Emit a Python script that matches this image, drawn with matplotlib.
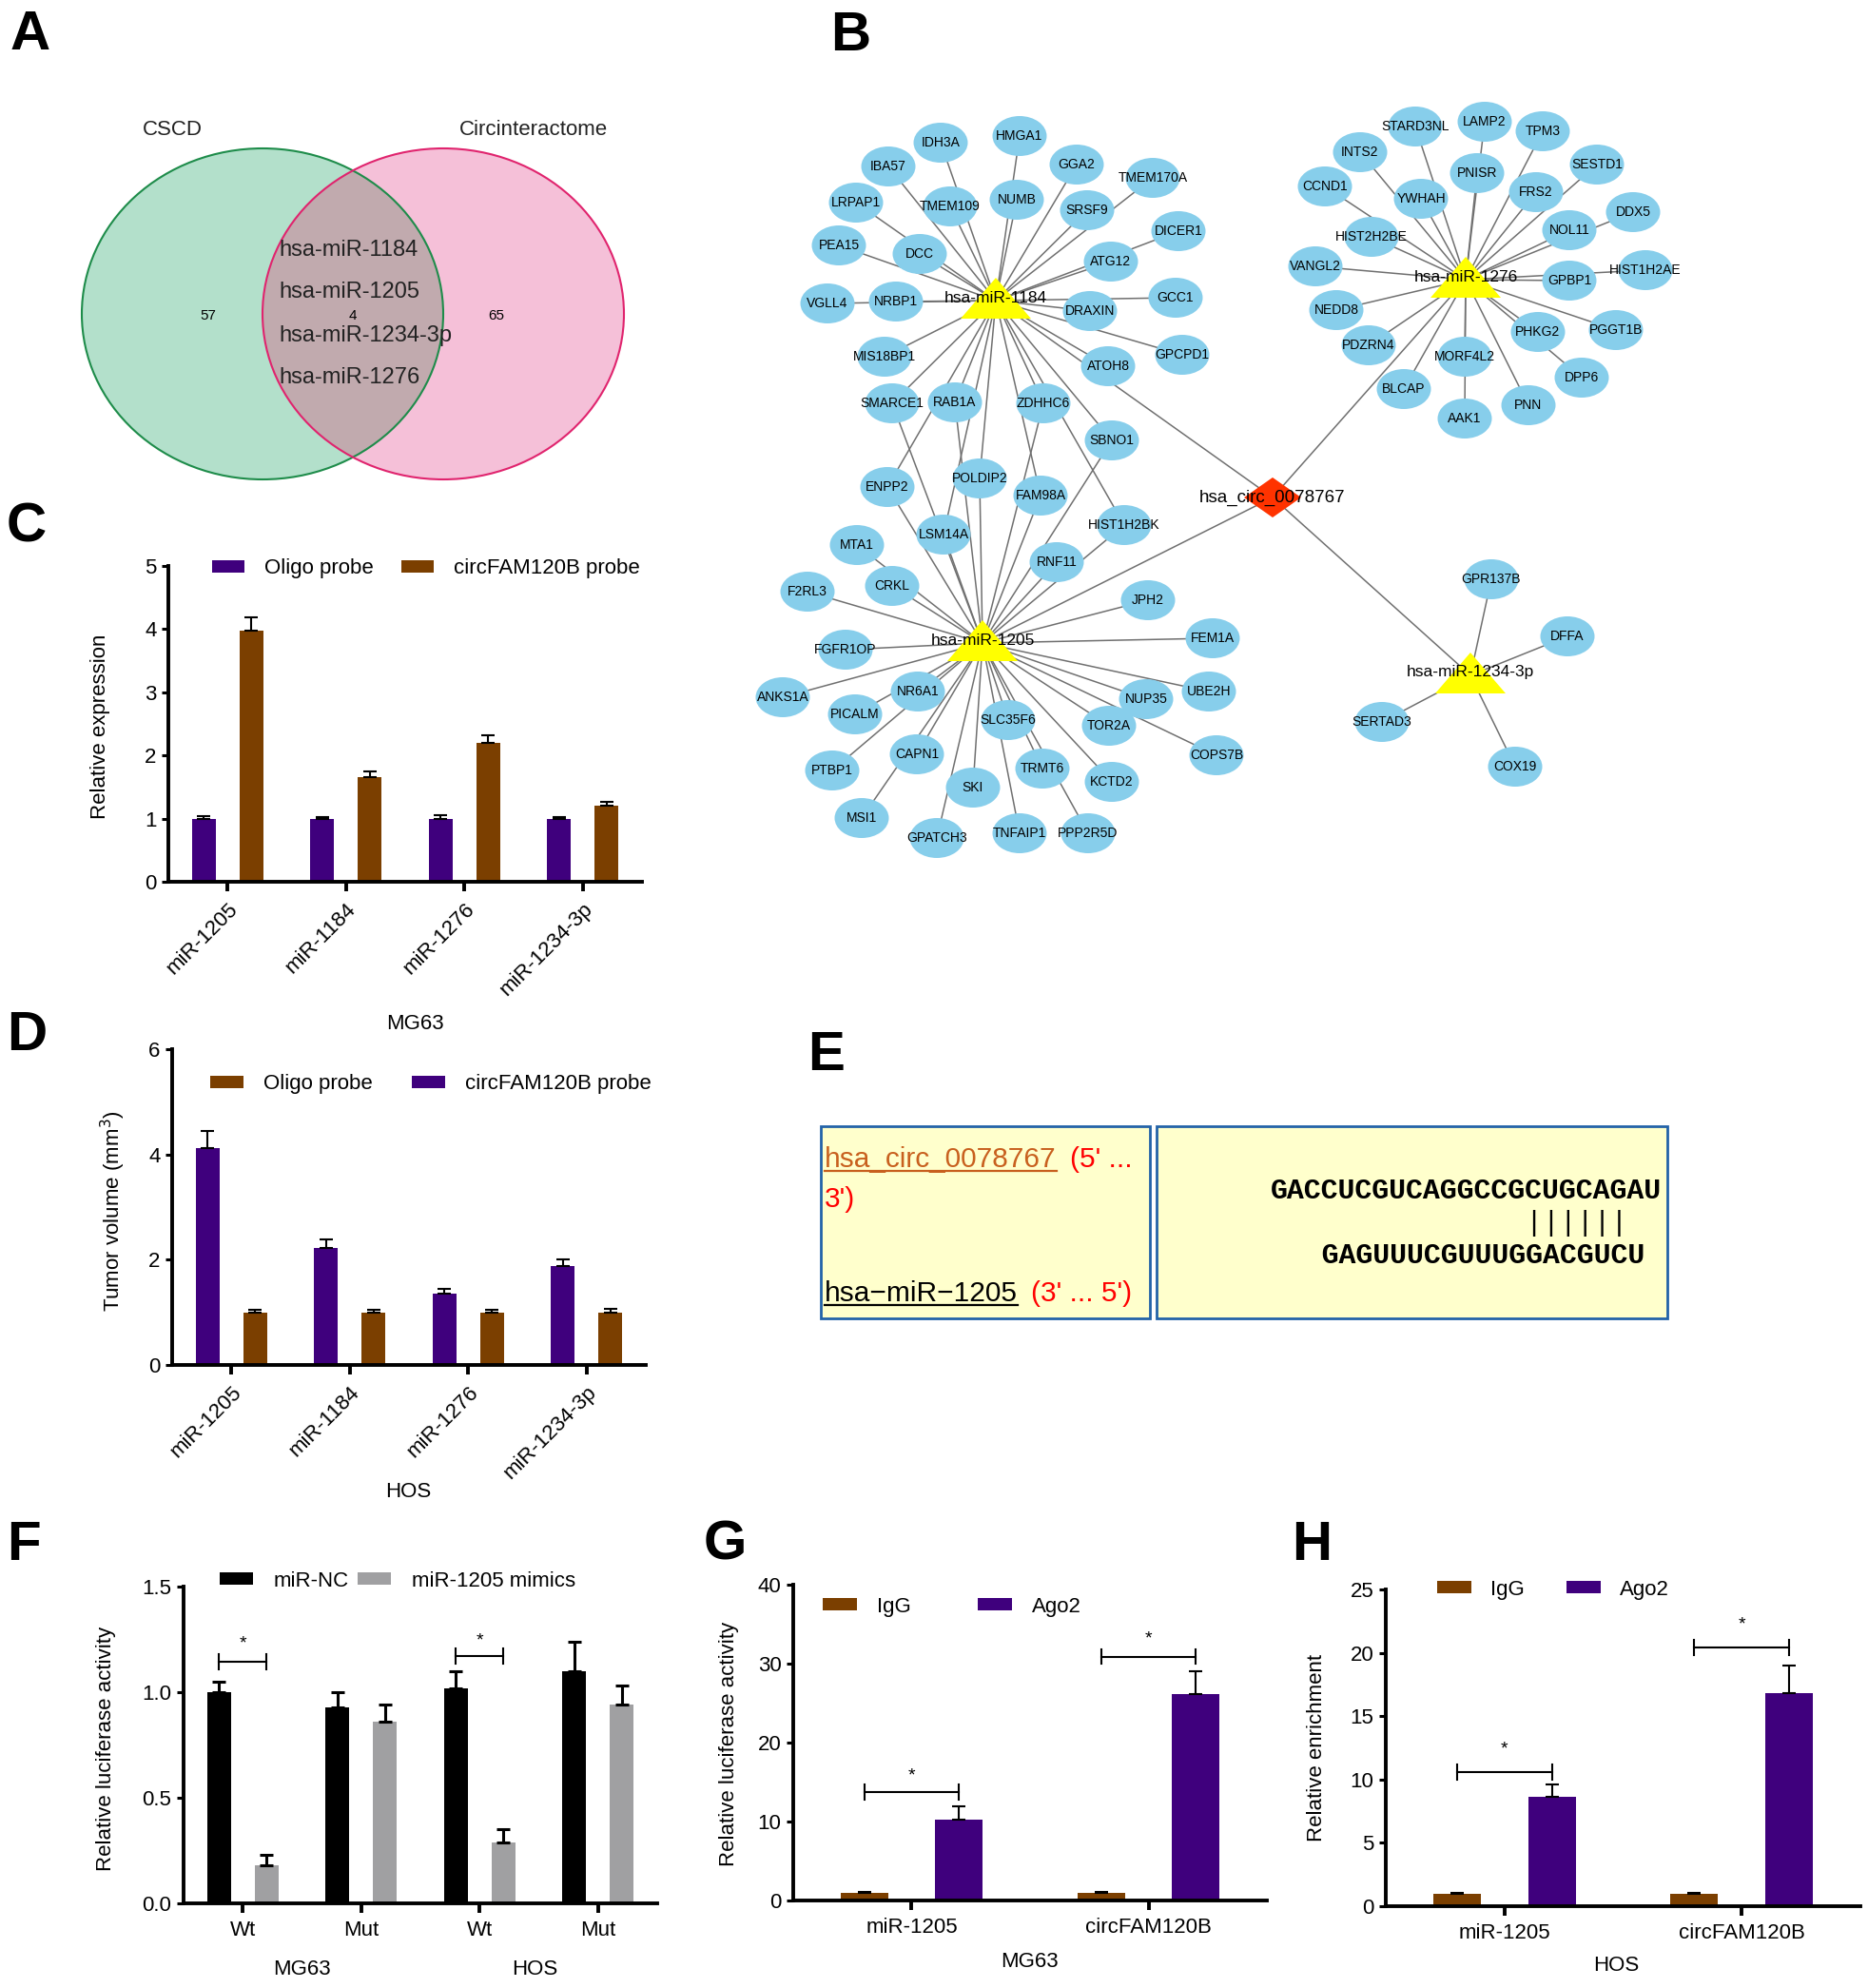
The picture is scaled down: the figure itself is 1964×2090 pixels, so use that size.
import numpy as np
import matplotlib
matplotlib.use('Agg')
import matplotlib.pyplot as plt
from matplotlib.patches import Ellipse, Polygon, Rectangle, Patch

plt.rcParams['font.family'] = ['Liberation Sans', 'DejaVu Sans']

W, H = 1965, 2090
PURPLE = '#3f007d'
BROWN = '#7b3f00'
GRAY = '#a0a0a2'

# ---------------- data ----------------
venn_sets = ['CSCD', 'Circinteractome']
venn_counts = [57, 4, 65]
shared_mirs = ['hsa-miR-1184', 'hsa-miR-1205', 'hsa-miR-1234-3p', 'hsa-miR-1276']

mirs = ['miR-1205', 'miR-1184', 'miR-1276', 'miR-1234-3p']
c_oligo = [1.0, 1.0, 1.0, 1.0]
c_oligo_err = [0.04, 0.02, 0.05, 0.03]
c_circ = [3.98, 1.66, 2.2, 1.2]
c_circ_err = [0.2, 0.09, 0.12, 0.06]

d_circ = [4.12, 2.22, 1.36, 1.88]
d_circ_err = [0.33, 0.16, 0.09, 0.12]
d_oligo = [1.0, 1.0, 1.0, 1.0]
d_oligo_err = [0.04, 0.04, 0.04, 0.06]

f_groups = ['Wt', 'Mut', 'Wt', 'Mut']
f_cells = ['MG63', 'HOS']
f_nc = [1.0, 0.93, 1.02, 1.10]
f_nc_err = [0.05, 0.07, 0.08, 0.14]
f_mim = [0.18, 0.86, 0.29, 0.94]
f_mim_err = [0.05, 0.08, 0.06, 0.09]

ip_targets = ['miR-1205', 'circFAM120B']
g_igg = [1.0, 1.0]
g_igg_err = [0.1, 0.1]
g_ago = [10.2, 26.1]
g_ago_err = [1.7, 2.9]
h_igg = [1.0, 1.0]
h_igg_err = [0.05, 0.05]
h_ago = [8.6, 16.8]
h_ago_err = [1.0, 2.2]

# network (panel B)
circ_name = 'hsa_circ_0078767'
hubs = ['hsa-miR-1184', 'hsa-miR-1276', 'hsa-miR-1205', 'hsa-miR-1234-3p']
t1184 = ['IDH3A', 'HMGA1', 'IBA57', 'GGA2', 'TMEM170A', 'LRPAP1', 'TMEM109', 'NUMB', 'SRSF9',
         'DICER1', 'PEA15', 'DCC', 'ATG12', 'GCC1', 'VGLL4', 'NRBP1', 'DRAXIN', 'MIS18BP1',
         'ATOH8', 'GPCPD1']
t_shared = ['SMARCE1', 'RAB1A', 'ZDHHC6', 'SBNO1', 'ENPP2', 'POLDIP2', 'FAM98A', 'HIST1H2BK', 'LSM14A']
t1205 = ['MTA1', 'CRKL', 'RNF11', 'F2RL3', 'JPH2', 'FEM1A', 'FGFR1OP', 'ANKS1A', 'NR6A1', 'PICALM',
         'UBE2H', 'NUP35', 'SLC35F6', 'TOR2A', 'CAPN1', 'COPS7B', 'PTBP1', 'TRMT6', 'KCTD2', 'SKI',
         'MSI1', 'GPATCH3', 'TNFAIP1', 'PPP2R5D']
t1276 = ['STARD3NL', 'LAMP2', 'TPM3', 'INTS2', 'PNISR', 'SESTD1', 'CCND1', 'YWHAH', 'FRS2', 'DDX5',
         'NOL11', 'HIST2H2BE', 'VANGL2', 'GPBP1', 'HIST1H2AE', 'NEDD8', 'PDZRN4', 'MORF4L2', 'PHKG2',
         'PGGT1B', 'DPP6', 'BLCAP', 'PNN', 'AAK1']
t1234 = ['GPR137B', 'DFFA', 'SERTAD3', 'COX19']

# layout of the network (pixel positions)
layout = {
    'hsa-miR-1184': (1047, 316), 'hsa-miR-1276': (1541, 294), 'hsa-miR-1205': (1033, 676),
    'hsa-miR-1234-3p': (1546, 710), circ_name: (1338, 523),
    'IDH3A': (989, 150), 'HMGA1': (1072, 143), 'IBA57': (934, 175), 'GGA2': (1132, 173),
    'TMEM170A': (1212, 187), 'LRPAP1': (900, 213), 'TMEM109': (999, 217), 'NUMB': (1069, 210),
    'SRSF9': (1143, 221), 'DICER1': (1239, 243), 'PEA15': (882, 258), 'DCC': (967, 267),
    'ATG12': (1168, 275), 'GCC1': (1236, 313), 'VGLL4': (870, 319), 'NRBP1': (942, 317),
    'DRAXIN': (1146, 327), 'MIS18BP1': (930, 375), 'ATOH8': (1165, 385), 'GPCPD1': (1243, 373),
    'SMARCE1': (938, 424), 'RAB1A': (1004, 423), 'ZDHHC6': (1097, 424), 'SBNO1': (1169, 463),
    'ENPP2': (933, 512), 'POLDIP2': (1030, 503), 'FAM98A': (1094, 521), 'HIST1H2BK': (1182, 552),
    'LSM14A': (992, 562), 'MTA1': (901, 573), 'CRKL': (938, 616), 'RNF11': (1111, 591),
    'F2RL3': (849, 622), 'JPH2': (1207, 631), 'FEM1A': (1275, 671), 'FGFR1OP': (889, 683),
    'ANKS1A': (823, 733), 'NR6A1': (965, 727), 'PICALM': (899, 751), 'UBE2H': (1271, 727),
    'NUP35': (1205, 735), 'SLC35F6': (1060, 757), 'TOR2A': (1166, 763), 'CAPN1': (964, 793),
    'COPS7B': (1279, 794), 'PTBP1': (875, 810), 'TRMT6': (1096, 808), 'KCTD2': (1169, 822),
    'SKI': (1023, 828), 'MSI1': (906, 860), 'GPATCH3': (985, 881), 'TNFAIP1': (1072, 876),
    'PPP2R5D': (1144, 876),
    'STARD3NL': (1488, 133), 'LAMP2': (1561, 128), 'TPM3': (1622, 138), 'INTS2': (1430, 160),
    'PNISR': (1553, 182), 'SESTD1': (1679, 173), 'CCND1': (1393, 196), 'YWHAH': (1494, 209),
    'FRS2': (1615, 202), 'DDX5': (1717, 223), 'NOL11': (1650, 242), 'HIST2H2BE': (1442, 249),
    'VANGL2': (1383, 280), 'GPBP1': (1650, 295), 'HIST1H2AE': (1730, 284), 'NEDD8': (1405, 326),
    'PDZRN4': (1439, 363), 'MORF4L2': (1540, 375), 'PHKG2': (1617, 349), 'PGGT1B': (1699, 347),
    'DPP6': (1663, 397), 'BLCAP': (1476, 409), 'PNN': (1607, 426), 'AAK1': (1540, 440),
    'GPR137B': (1568, 609), 'DFFA': (1648, 669), 'SERTAD3': (1453, 759), 'COX19': (1593, 806),
}

fig = plt.figure(figsize=(W / 100, H / 100), dpi=100)
bg = fig.add_axes([0, 0, 1, 1], zorder=0)
bg.set_xlim(0, W)
bg.set_ylim(H, 0)
bg.axis('off')

# panel letters
for lab, (x, y) in zip('ABCDEFGH', [(11, 10), (873, 11), (7, 527), (7, 1062), (849, 1083),
                                     (7, 1598), (740, 1598), (1358, 1598)]):
    bg.text(x, y, lab, fontsize=42, fontweight='bold', ha='left', va='top')

# ---------------- A: Venn ----------------
g_ell = Ellipse((276, 330), 380, 348, fc='#b3e0cb', ec='none', zorder=1)
p_ell = Ellipse((466, 330), 380, 348, fc='#f5c0d8', ec='none', zorder=1)
bg.add_patch(g_ell)
bg.add_patch(p_ell)
ov = Ellipse((466, 330), 380, 348, fc='#c1aaae', ec='none', zorder=1.5)
bg.add_patch(ov)
ov.set_clip_path(g_ell)
bg.add_patch(Ellipse((276, 330), 380, 348, fc='none', ec='#1e8c4a', lw=1.5, zorder=2))
bg.add_patch(Ellipse((466, 330), 380, 348, fc='none', ec='#e0246e', lw=1.5, zorder=2))
bg.text(181, 137, venn_sets[0], fontsize=16, color='#222222', ha='center', va='center')
bg.text(561, 137, venn_sets[1], fontsize=16, color='#222222', ha='center', va='center')
for cnt, x in zip(venn_counts, [219, 371, 522]):
    bg.text(x, 332, str(cnt), fontsize=11, ha='center', va='center', zorder=3)
for name, y in zip(shared_mirs, [263, 307, 353, 397]):
    bg.text(293, y, name, fontsize=17, color='#222222', ha='left', va='center', zorder=3)

# ---------------- B: network ----------------
edges = [(circ_name, h) for h in hubs]
edges += [('hsa-miR-1184', g) for g in t1184 + t_shared]
edges += [('hsa-miR-1205', g) for g in t_shared + t1205]
edges += [('hsa-miR-1276', g) for g in t1276]
edges += [('hsa-miR-1234-3p', g) for g in t1234]
for a, b in edges:
    (x1, y1), (x2, y2) = layout[a], layout[b]
    bg.plot([x1, x2], [y1, y2], color='#707070', lw=1.1, zorder=2, solid_capstyle='butt')

for g in t1184 + t_shared + t1205 + t1276 + t1234:
    x, y = layout[g]
    bg.add_patch(Ellipse((x, y), 57, 42, fc='#87ceeb', ec='none', zorder=3))
    bg.text(x, y, g, fontsize=10, ha='center', va='center', zorder=5)

for hname in hubs:
    x, y = layout[hname]
    bg.add_patch(Polygon([(x, y - 24), (x - 37, y + 19), (x + 37, y + 19)], closed=True,
                         fc='#ffff00', ec='none', zorder=4))
    bg.text(x, y - 3, hname, fontsize=12.5, ha='center', va='center', zorder=6)
cx, cy = layout[circ_name]
bg.add_patch(Polygon([(cx - 30, cy), (cx, cy - 21), (cx + 30, cy), (cx, cy + 21)], closed=True,
                     fc='#ff3300', ec='none', zorder=4))
bg.text(cx, cy, circ_name, fontsize=13.5, ha='center', va='center', zorder=6)

# ---------------- E: binding site ----------------
bg.add_patch(Rectangle((863, 1184), 346, 202, fc='#ffffcc', ec='#2262a8', lw=2, zorder=1))
bg.add_patch(Rectangle((1216, 1184), 537, 202, fc='#ffffcc', ec='#2262a8', lw=2, zorder=1))
t1 = bg.text(867, 1227, circ_name, fontsize=21.5, color='#c8601e', ha='left', va='baseline', zorder=3)
t2 = bg.text(867, 1368, 'hsa\u2212miR\u22121205', fontsize=21.5, color='black', ha='left',
             va='baseline', zorder=3)
bg.text(867, 1269, "3')", fontsize=21.5, color='#ff0000', ha='left', va='baseline', zorder=3)
seq_top = 'GACCUCGUCAGGCCGCUGCAGAU'
seq_bot = 'GAGUUUCGUUUGGACGUCU'
pair_start, pair_len, bot_offset = 15, 6, 3
mono = dict(family=['Liberation Mono', 'DejaVu Sans Mono'], fontsize=21.5, fontweight='bold', zorder=3)
bg.text(1336, 1260, seq_top, ha='left', va='baseline', **mono)
bg.text(1336, 1328, ' ' * bot_offset + seq_bot, ha='left', va='baseline', **mono)
bg.text(1336, 1286, ' ' * pair_start + '|' * pair_len, ha='left', va='center',
        family=['Liberation Mono', 'DejaVu Sans Mono'], fontsize=21.5, zorder=3)

fig.canvas.draw()
rend = fig.canvas.get_renderer()
inv = bg.transData.inverted()
for t, col, uy, red in [(t1, '#c8601e', 1231, "(5' ..."), (t2, 'black', 1372, "(3' ... 5')")]:
    bb = t.get_window_extent(renderer=rend)
    xa = inv.transform((bb.x0, 0))[0]
    xb = inv.transform((bb.x1, 0))[0]
    bg.plot([xa, xb], [uy, uy], color=col, lw=1.6, zorder=3)
    bg.text(xb + 14, uy - 4, red, fontsize=21.5, color='#ff0000', ha='left', va='baseline', zorder=3)


# ---------------- bar chart helpers ----------------
def px_axes(l, t, r, b):
    ax = fig.add_axes([l / W, 1 - b / H, (r - l) / W, (b - t) / H], zorder=2)
    ax.set_facecolor('none')
    for s in ['top', 'right']:
        ax.spines[s].set_visible(False)
    for s in ['left', 'bottom']:
        ax.spines[s].set_linewidth(2.8)
    ax.tick_params(axis='y', direction='out', length=5, width=2.2, labelsize=16, pad=4)
    ax.tick_params(axis='x', direction='out', length=7, width=2.8, labelsize=16, pad=6)
    return ax


def grouped(ax, v1, e1, c1, v2, e2, c2, elw=1.5):
    x = np.arange(len(v1))
    z = np.zeros(len(v1))
    ax.bar(x - 0.2, v1, 0.2, color=c1, zorder=2)
    ax.bar(x + 0.2, v2, 0.2, color=c2, zorder=2)
    ax.errorbar(x - 0.2, v1, yerr=[z, e1], fmt='none', ecolor='black', elinewidth=elw,
                capsize=5, capthick=elw, zorder=3)
    ax.errorbar(x + 0.2, v2, yerr=[z, e2], fmt='none', ecolor='black', elinewidth=elw,
                capsize=5, capthick=elw, zorder=3)
    ax.set_xlim(-0.5, len(v1) - 0.5)
    ax.set_xticks(x)


def legend_at(ax, colors, labels, x_px, y_px, hl, hts, cs):
    handles = [Patch(facecolor=c, edgecolor='none') for c in colors]
    ax.legend(handles, labels, loc='center left', bbox_to_anchor=(x_px / W, 1 - y_px / H),
              bbox_transform=fig.transFigure, ncol=2, frameon=False, fontsize=16,
              handlelength=hl, handleheight=0.5, handletextpad=hts, columnspacing=cs,
              borderpad=0, borderaxespad=0)


def bracket(ax, xc, y, ystar, half):
    ax.plot([xc - 0.2, xc + 0.2], [y, y], color='black', lw=1.5, zorder=4)
    for xe in (xc - 0.2, xc + 0.2):
        ax.plot([xe, xe], [y - half, y + half], color='black', lw=1.5, zorder=4)
    ax.text(xc, ystar, '*', fontsize=14, ha='center', va='center')


# ---------------- C ----------------
axc = px_axes(177, 595, 675, 927)
grouped(axc, c_oligo, c_oligo_err, PURPLE, c_circ, c_circ_err, BROWN)
axc.set_ylim(0, 5)
axc.set_yticks(range(6))
axc.set_xticklabels(mirs, rotation=45, ha='right', rotation_mode='anchor')
legend_at(axc, [PURPLE, BROWN], ['Oligo probe', 'circFAM120B probe'], 223, 598, 1.53, 0.95, 1.3)
bg.text(106, 764, 'Relative expression', fontsize=16, rotation=90, ha='center', va='center')
bg.text(436, 1076, 'MG63', fontsize=16, ha='center', va='center')

# ---------------- D ----------------
axd = px_axes(181, 1103, 679, 1435)
grouped(axd, d_circ, d_circ_err, PURPLE, d_oligo, d_oligo_err, BROWN)
axd.set_ylim(0, 6)
axd.set_yticks([0, 2, 4, 6])
axd.set_xticklabels(mirs, rotation=45, ha='right', rotation_mode='anchor')
legend_at(axd, [BROWN, PURPLE], ['Oligo probe', 'circFAM120B probe'], 221, 1140, 1.58, 0.95, 1.85)
bg.text(119, 1273, 'Tumor volume (mm$^3$)', fontsize=16, rotation=90, ha='center', va='center')
bg.text(429, 1568, 'HOS', fontsize=16, ha='center', va='center')

# ---------------- F ----------------
axf = px_axes(193, 1668, 691, 2001)
grouped(axf, f_nc, f_nc_err, 'black', f_mim, f_mim_err, GRAY, elw=2.2)
axf.set_ylim(0, 1.5)
axf.set_yticks([0, 0.5, 1.0, 1.5])
axf.set_yticklabels(['0.0', '0.5', '1.0', '1.5'])
axf.set_xticklabels(f_groups)
legend_at(axf, ['black', GRAY], ['miR-NC', 'miR-1205 mimics'], 231, 1662, 1.58, 0.95, 0.45)
bracket(axf, 0, 1.142, 1.23, 0.036)
bracket(axf, 2, 1.169, 1.245, 0.036)
bg.text(112, 1838, 'Relative luciferase activity', fontsize=16, rotation=90, ha='center', va='center')
bg.text(317, 2071, f_cells[0], fontsize=16, ha='center', va='center')
bg.text(562, 2071, f_cells[1], fontsize=16, ha='center', va='center')

# ---------------- G ----------------
axg = px_axes(834, 1666, 1332, 1998)
grouped(axg, g_igg, g_igg_err, BROWN, g_ago, g_ago_err, PURPLE)
axg.set_ylim(0, 40)
axg.set_yticks([0, 10, 20, 30, 40])
axg.set_xticklabels(ip_targets)
legend_at(axg, [BROWN, PURPLE], ['IgG', 'Ago2'], 865, 1689, 1.62, 0.95, 3.15)
bracket(axg, 0, 13.7, 15.8, 0.96)
bracket(axg, 1, 30.9, 33.1, 0.96)
bg.text(767, 1833, 'Relative luciferase activity', fontsize=16, rotation=90, ha='center', va='center')
bg.text(1082, 2063, 'MG63', fontsize=16, ha='center', va='center')

# ---------------- H ----------------
axh = px_axes(1457, 1671, 1956, 2004)
grouped(axh, h_igg, h_igg_err, BROWN, h_ago, h_ago_err, PURPLE)
axh.set_ylim(0, 25)
axh.set_yticks([0, 5, 10, 15, 20, 25])
axh.set_xticklabels(ip_targets)
legend_at(axh, [BROWN, PURPLE], ['IgG', 'Ago2'], 1511, 1671, 1.62, 0.9, 2.0)
bracket(axh, 0, 10.56, 12.4, 0.6)
bracket(axh, 1, 20.4, 22.25, 0.6)
bg.text(1385, 1837, 'Relative enrichment', fontsize=16, rotation=90, ha='center', va='center')
bg.text(1699, 2067, 'HOS', fontsize=16, ha='center', va='center')

fig.savefig('out.png', dpi=100)
